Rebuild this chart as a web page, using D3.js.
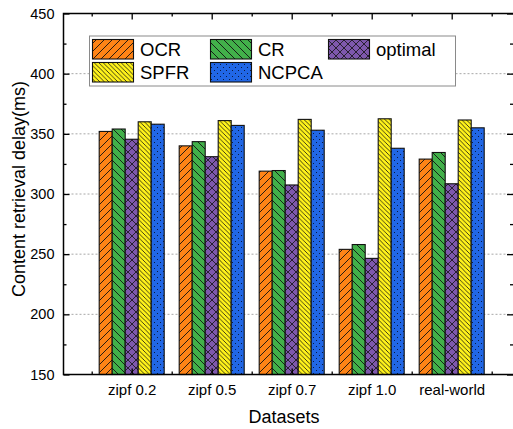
<!DOCTYPE html>
<html>
<head>
<meta charset="utf-8">
<script src="https://cdn.jsdelivr.net/npm/d3@7"></script>
<style>
  body { margin: 0; background: #fff; }
  svg { display: block; font-family: "Liberation Sans", Arial, sans-serif; }
  .axis path { display: none; }
  .axis line { stroke: #000; stroke-width: 1.3; }
</style>
</head>
<body>
<svg width="513" height="429"></svg>
<script>
// data
var datasets = ["zipf 0.2", "zipf 0.5", "zipf 0.7", "zipf 1.0", "real-world"];
var methods = ["OCR", "CR", "optimal", "SPFR", "NCPCA"];
var ocr     = [352, 340, 319, 254, 329];
var cr      = [354, 343.5, 319.5, 258, 334.5];
var optimal = [345.5, 331, 307.5, 246.5, 308.5];
var spfr    = [360, 361, 362, 362.5, 361.5];
var ncpca   = [358, 357, 353, 338, 355];
var yTicks = [150, 200, 250, 300, 350, 400, 450];
var gridValues = [200, 250, 300, 350, 400];

var series = [ocr, cr, optimal, spfr, ncpca];
var fills = ["url(#p-ocr)", "url(#p-cr)", "url(#p-opt)", "url(#p-spfr)", "url(#p-ncpca)"];

var svg = d3.select("svg"),
    pLeft = 63.5, pRight = 514, pTop = 13.5, pBottom = 374.5;

var x = d3.scaleLinear().domain([0.5, 5.5]).range([91.7, 491.7]);
var y = d3.scaleLinear().domain([150, 450]).range([pBottom, pTop]);
var barW = 13;

// patterns
var defs = svg.append("defs");
function hatch(id, color, s, dir, sw) {
  var p = defs.append("pattern").attr("id", id)
      .attr("patternUnits", "userSpaceOnUse").attr("width", s).attr("height", s);
  p.append("rect").attr("width", s).attr("height", s).attr("fill", color);
  var fwd = "M0," + s + "L" + s + ",0M-1,1L1,-1M" + (s - 1) + "," + (s + 1) + "L" + (s + 1) + "," + (s - 1);
  var back = "M0,0L" + s + "," + s + "M-1," + (s - 1) + "L1," + (s + 1) + "M" + (s - 1) + ",-1L" + (s + 1) + ",1";
  var d = dir === "/" ? fwd : dir === "\\" ? back : fwd + back;
  p.append("path").attr("d", d).attr("stroke", "#111").attr("stroke-width", sw);
}
hatch("p-ocr", "#ff8416", 8, "/", 0.9);
hatch("p-cr", "#42b04a", 8, "\\", 0.9);
hatch("p-opt", "#7e58ad", 8, "x", 0.8);
hatch("p-spfr", "#fff21a", 4.5, "\\", 0.8);
var pd = defs.append("pattern").attr("id", "p-ncpca")
    .attr("patternUnits", "userSpaceOnUse").attr("width", 6).attr("height", 6);
pd.append("rect").attr("width", 6).attr("height", 6).attr("fill", "#2167e6");
pd.append("rect").attr("x", 1).attr("y", 1).attr("width", 1).attr("height", 1).attr("fill", "#0a1a40");
pd.append("rect").attr("x", 4).attr("y", 4).attr("width", 1).attr("height", 1).attr("fill", "#0a1a40");

// grid
svg.append("g").selectAll("line").data(gridValues).join("line")
    .attr("x1", pLeft).attr("x2", pRight)
    .attr("y1", function(d) { return y(d); }).attr("y2", function(d) { return y(d); })
    .attr("stroke", "#a8a8a8").attr("stroke-width", 1).attr("stroke-dasharray", "2,2");

// bars
var groups = svg.append("g").selectAll("g").data(series).join("g")
    .attr("fill", function(d, i) { return fills[i]; });
groups.selectAll("rect").data(function(d, i) {
      return d.map(function(v, j) { return {v: v, j: j, k: i}; });
    }).join("rect")
    .attr("x", function(d) { return x(d.j + 1) - 2.5 * barW + d.k * barW; })
    .attr("y", function(d) { return y(d.v); })
    .attr("width", barW)
    .attr("height", function(d) { return y(150) - y(d.v); })
    .attr("stroke", "#111").attr("stroke-width", 1.1);

// axes
var major = [1, 2, 3, 4, 5], minor = [0.5, 1.5, 2.5, 3.5, 4.5, 5.5];
var yMinor = [175, 225, 275, 325, 375, 425];
function styleText(size) {
  return function(g) {
    g.selectAll("text").attr("font-size", size).attr("fill", "#000")
        .style("font-family", "Liberation Sans, Arial, sans-serif");
  };
}

svg.append("g").attr("class", "axis").attr("transform", "translate(" + pLeft + ",0)")
    .call(d3.axisLeft(y).tickValues(yTicks).tickSize(-6).tickPadding(9))
    .call(styleText(14.5));
svg.append("g").attr("class", "axis").attr("transform", "translate(" + pLeft + ",0)")
    .call(d3.axisLeft(y).tickValues(yMinor).tickSize(-3).tickFormat(""));
svg.append("g").attr("class", "axis").attr("transform", "translate(" + pRight + ",0)")
    .call(d3.axisRight(y).tickValues(yTicks).tickSize(-7).tickFormat(""));
svg.append("g").attr("class", "axis").attr("transform", "translate(" + pRight + ",0)")
    .call(d3.axisRight(y).tickValues(yMinor).tickSize(-4).tickFormat(""));

svg.append("g").attr("class", "axis").attr("transform", "translate(0," + pBottom + ")")
    .call(d3.axisBottom(x).tickValues(major).tickSize(-6).tickPadding(10)
          .tickFormat(function(d) { return datasets[d - 1]; }))
    .call(styleText(15));
svg.append("g").attr("class", "axis").attr("transform", "translate(0," + pBottom + ")")
    .call(d3.axisBottom(x).tickValues(minor).tickSize(-3).tickFormat(""));
svg.append("g").attr("class", "axis").attr("transform", "translate(0," + pTop + ")")
    .call(d3.axisTop(x).tickValues(major).tickSize(-6).tickFormat(""));
svg.append("g").attr("class", "axis").attr("transform", "translate(0," + pTop + ")")
    .call(d3.axisTop(x).tickValues(minor).tickSize(-3).tickFormat(""));

// frame
svg.append("rect").attr("x", pLeft).attr("y", pTop)
    .attr("width", pRight - pLeft).attr("height", pBottom - pTop)
    .attr("fill", "none").attr("stroke", "#000").attr("stroke-width", 1.5);

// titles
svg.append("text").attr("x", 284).attr("y", 423)
    .attr("text-anchor", "middle").attr("font-size", 18).text("Datasets");
svg.append("text").attr("transform", "translate(25,189) rotate(-90)")
    .attr("text-anchor", "middle").attr("font-size", 18).text("Content retrieval delay(ms)");

// legend
var legend = svg.append("g");
legend.append("rect").attr("x", 89.5).attr("y", 36).attr("width", 366).attr("height", 50)
    .attr("fill", "#fff").attr("stroke", "#8a8a8a").attr("stroke-width", 1);
var legPos = [[92.5, 39.5], [210.5, 39.5], [328.5, 39.5], [92.5, 62.5], [210.5, 62.5]];
methods.forEach(function(m, i) {
  var p = legPos[i];
  legend.append("rect").attr("x", p[0]).attr("y", p[1]).attr("width", 41).attr("height", 19.5)
      .attr("fill", fills[i]).attr("stroke", "#111").attr("stroke-width", 1.1);
  legend.append("text").attr("x", p[0] + 47.5).attr("y", p[1] + 16.5)
      .attr("font-size", 18.5).text(m);
});
</script>
</body>
</html>
